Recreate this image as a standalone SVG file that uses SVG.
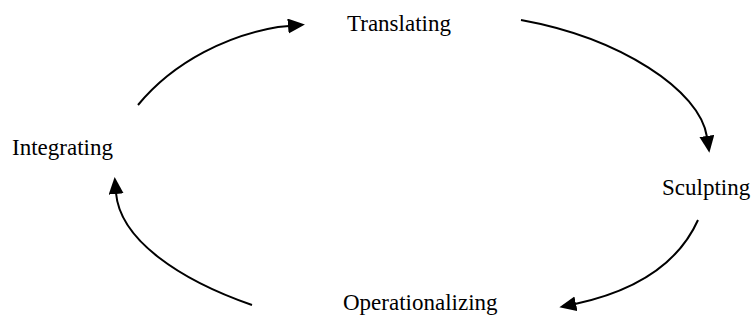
<svg xmlns="http://www.w3.org/2000/svg" width="754" height="325" viewBox="0 0 754 325">
<style>
.lbl{font-family:"Liberation Serif","Times New Roman",serif;font-size:23px;fill:#000}
.con{fill:none;stroke:#000;stroke-width:2}
</style>
<defs>
<marker id="ah" markerUnits="userSpaceOnUse" markerWidth="18" markerHeight="16" refX="1" refY="7.5" orient="auto" viewBox="0 0 18 16">
<path d="M0,0 L17,7.5 L0,15 z" fill="#000"/>
</marker>
</defs>
<rect width="754" height="325" fill="#fff"/>
<g id="connectors">
<path class="con" marker-end="url(#ah)" d="M138,105 C175,60 230,35 278,27 L289,26"/>
<path class="con" marker-end="url(#ah)" d="M521,20 C620,38 700,90 707,137"/>
<path class="con" marker-end="url(#ah)" d="M698,220 C680,260 640,290 575,304"/>
<path class="con" marker-end="url(#ah)" d="M252,305 C180,280 120,240 116,193"/>
</g>
<g id="translating"><text class="lbl" x="347" y="31">Translating</text></g>
<g id="sculpting"><text class="lbl" x="662" y="195">Sculpting</text></g>
<g id="operationalizing"><text class="lbl" x="343" y="310">Operationalizing</text></g>
<g id="integrating"><text class="lbl" x="12" y="155">Integrating</text></g>
</svg>
